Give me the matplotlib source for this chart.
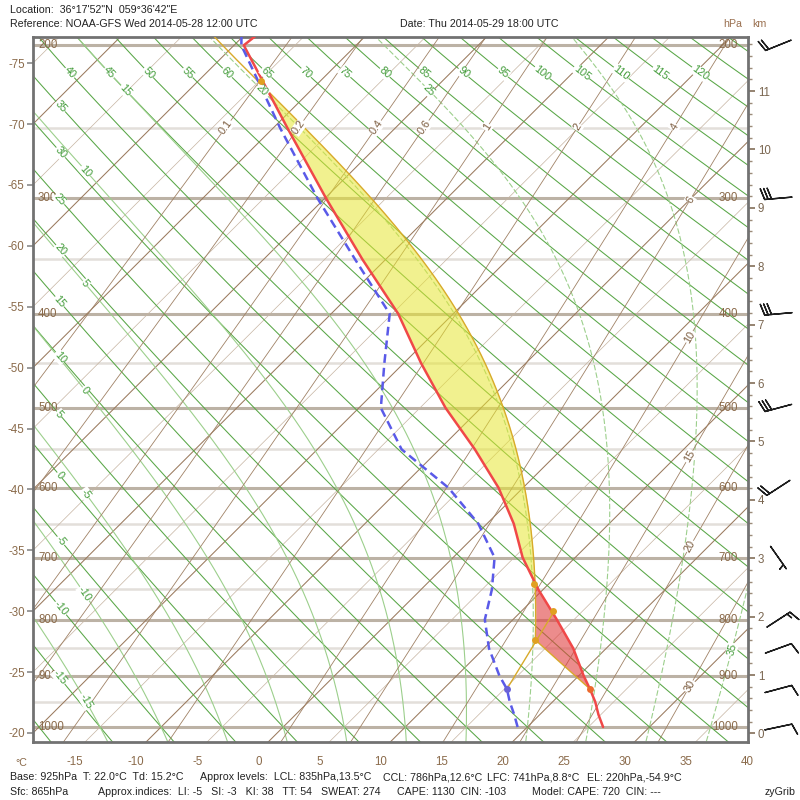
import numpy as np
import matplotlib
matplotlib.use("Agg")
import matplotlib.pyplot as plt
from matplotlib.ticker import MultipleLocator

plt.rcParams['font.family'] = ['Liberation Sans', 'DejaVu Sans']

# ---------------- data ----------------
levels_hpa = [1000, 975, 950, 925, 900, 850, 800, 750, 700, 650, 600, 550, 500,
              450, 400, 350, 300, 250, 200, 150]
temperature_c = [26.2, 24.8, 23.5, 22.0, 20.4, 17.3, 13.6, 9.6, 5.7, 2.2, -2.0, -7.1,
                 -12.9, -18.6, -24.5, -31.9, -39.9, -48.8, -59.2, -57.0]
dewpoint_c = [19.2, 17.9, 16.5, 15.2, 13.5, 10.4, 7.7, 5.8, 3.4, -0.7, -6.1, -13.1,
              -18.2, -21.6, -25.2, -32.5, -40.6, -49.4, -59.4, -68.0]

wind_levels_hpa = [200, 300, 400, 500, 600, 700, 800, 850, 925, 1000]
wind_dir_deg = [248, 265, 265, 255, 237, 145, 57, 70, 75, 78]
wind_speed_kt = [20, 30, 30, 30, 20, 5, 15, 10, 10, 10]

base_hpa, base_t, base_td = 925, 22.0, 15.2
lcl_hpa, lcl_t = 835, 13.5
ccl_hpa, ccl_t = 786, 12.6
lfc_hpa, lfc_t = 741, 8.8
el_hpa, el_t = 220, -54.9

isotherm_ticks = [-75, -70, -65, -60, -55, -50, -45, -40, -35, -30, -25, -20]
bottom_ticks = [-15, -10, -5, 0, 5, 10, 15, 20, 25, 30, 35, 40]
km_ticks = list(range(0, 12))
isobars_major = [200, 300, 400, 500, 600, 700, 800, 900, 1000]
isobars_minor = [250, 350, 450, 550, 650, 750, 850, 950]
dry_thetas = list(range(-20, 135, 5))
dry_top_labels = list(range(40, 125, 5))
dry_left_labels = list(range(-15, 40, 5))
moist_thetas = list(range(-15, 40, 5))
moist_left_labels = [-15, -10, -5, 0, 5, 10]
moist_top_labels = [15, 20, 25]
moist_right_labels = [35]
mixing_ratios = [0.1, 0.2, 0.4, 0.6, 1, 2, 4, 6, 10, 15, 20, 30]
mix_top_labels = [0.1, 0.2, 0.4, 0.6, 1, 2, 4]
mix_right_labels = [6, 10, 15, 20, 30]

header1 = "Location:  36°17'52\"N  059°36'42\"E"
header2 = "Reference: NOAA-GFS Wed 2014-05-28 12:00 UTC"
header3 = "Date: Thu 2014-05-29 18:00 UTC"
foot1 = [(10, "Base: 925hPa  T: 22.0°C  Td: 15.2°C"),
         (200, "Approx levels:  LCL: 835hPa,13.5°C"),
         (383, "CCL: 786hPa,12.6°C"),
         (487, "LFC: 741hPa,8.8°C"),
         (587, "EL: 220hPa,-54.9°C")]
foot2 = [(10, "Sfc: 865hPa"),
         (98, "Approx.indices:  LI: -5   SI: -3   KI: 38   TT: 54   SWEAT: 274"),
         (397, "CAPE: 1130  CIN: -103"),
         (532, "Model: CAPE: 720  CIN: ---"),
         (765, "zyGrib")]

# ---------------- physics helpers ----------------
SKEW = 4.795     # deg C per km of 45-degree skew
ZB, ZT = -0.146, 11.926
XL, XR = -19.26, 39.30
Rd, Cp, Lv, EPS = 287.04, 1005.7, 2.501e6, 0.622


def p2z(p):
    p = np.asarray(p, float)
    zt = 44.3308 * (1 - (p / 1013.25) ** 0.190263)
    zs = 11.0 + 6.3416 * np.log(226.32 / p)
    return np.where(p >= 226.32, zt, zs)


def sx(t, z):
    return np.asarray(t, float) + SKEW * (np.asarray(z, float) - ZB)


def sat_vp(tc):
    return 6.112 * np.exp(17.67 * tc / (tc + 243.5))


def moist_rate(tk, p):
    es = sat_vp(tk - 273.15)
    rs = EPS * es / (p - es)
    return (Rd * tk + Lv * rs) / (Cp + Lv * Lv * rs * EPS / (Rd * tk * tk)) / p


def moist_path(t0, p0, p1, n=300):
    ps = np.geomspace(p0, p1, n)
    tk = t0 + 273.15
    out = [tk]
    for i in range(1, n):
        a, b = ps[i - 1], ps[i]
        h = b - a
        k1 = moist_rate(tk, a)
        k2 = moist_rate(tk + 0.5 * h * k1, a + 0.5 * h)
        k3 = moist_rate(tk + 0.5 * h * k2, a + 0.5 * h)
        k4 = moist_rate(tk + h * k3, b)
        tk = tk + h * (k1 + 2 * k2 + 2 * k3 + k4) / 6
        out.append(tk)
    return ps, np.array(out) - 273.15


def dry_path(theta_c, ps):
    return (theta_c + 273.15) * (np.asarray(ps) / 1000.0) ** 0.2857 - 273.15


def mix_td(w, ps):
    e = w * np.asarray(ps) / (622.0 + w)
    le = np.log(e / 6.112)
    return 243.5 * le / (17.67 - le)


# ---------------- figure ----------------
fig = plt.figure(figsize=(8, 8), dpi=100)
W = H = 800.0
ax = fig.add_axes([33 / W, 58 / H, 715 / W, 705 / H])
ax.set_xlim(XL, XR)
ax.set_ylim(ZB, ZT)

C_ISO_MAJ = '#bcb2a5'
C_ISO_MIN = '#e3dfda'
C_TMAJ = '#9a7a5e'
C_TMIN = '#c6b4a2'
C_DRY = '#58a646'
C_MOIST = '#9ccf8c'
C_MIX = '#a08266'
C_LAB = '#8a6a4a'
C_GLAB = '#3f9a36'

# isobars
for p in isobars_minor:
    ax.axhline(float(p2z(p)), color=C_ISO_MIN, lw=1.8, zorder=1)
for p in isobars_major:
    ax.axhline(float(p2z(p)), color=C_ISO_MAJ, lw=2.2, zorder=1)
    z = float(p2z(p))
    ax.text(0.007, z, str(p), transform=ax.get_yaxis_transform(), ha='left',
            va='center', fontsize=8.3, color=C_LAB, zorder=6)
    ax.text(0.986, z, str(p), transform=ax.get_yaxis_transform(), ha='right',
            va='center', fontsize=8.3, color=C_LAB, zorder=6)

zz = np.array([ZB, ZT])
# isotherms
for t in range(-110, 45, 5):
    major = (t % 10 == 0)
    ax.plot(sx(t, zz), zz, color=C_TMAJ if major else C_TMIN,
            lw=0.75 if major else 0.5, zorder=2)


def angle_at(xs, ys, i):
    i0 = max(i - 3, 0)
    i1 = min(i + 3, len(xs) - 1)
    a = ax.transData.transform((xs[i0], ys[i0]))
    b = ax.transData.transform((xs[i1], ys[i1]))
    ang = np.degrees(np.arctan2(b[1] - a[1], b[0] - a[0]))
    if ang > 90:
        ang -= 180
    if ang < -90:
        ang += 180
    return ang


def put_label(xs, ys, i, text, color, size=7.8):
    ax.text(xs[i], ys[i], text, color=color, fontsize=size, ha='center',
            va='center', rotation=angle_at(xs, ys, i), rotation_mode='anchor',
            zorder=6, clip_on=True,
            bbox=dict(boxstyle='square,pad=0.05', fc='white', ec='none'))


pgrid = np.geomspace(1045, 170, 300)
zgrid = p2z(pgrid)
Z_TOP_LAB = (733.5 - 72) / 58.4
X_LEFT_LAB = (60 - 33) / 12.21 + XL

# dry adiabats
for th in dry_thetas:
    xs = sx(dry_path(th, pgrid), zgrid)
    ax.plot(xs, zgrid, color=C_DRY, lw=0.75, zorder=2)
    if th in dry_top_labels:
        i = int(np.argmin(np.abs(zgrid - Z_TOP_LAB)))
        put_label(xs, zgrid, i, str(th), C_GLAB)
    if th in dry_left_labels:
        i = int(np.argmin(np.abs(xs - X_LEFT_LAB)))
        put_label(xs, zgrid, i, str(th), C_GLAB)

# moist adiabats
Z_MTOP = (733.5 - 91) / 58.4
X_MLEFT = (85 - 33) / 12.21 + XL
X_MRIGHT = (732 - 33) / 12.21 + XL
for tw in moist_thetas:
    pu, tu = moist_path(tw, 1000.0, 170.0)
    pd, td = moist_path(tw, 1000.0, 1045.0, 40)
    ps = np.concatenate([pd[::-1], pu[1:]])
    ts = np.concatenate([td[::-1], tu[1:]])
    zs = p2z(ps)
    xs = sx(ts, zs)
    if tw >= 20:
        ax.plot(xs, zs, color=C_MOIST, lw=0.8, dashes=(5, 2), zorder=2)
    else:
        ax.plot(xs, zs, color=C_MOIST, lw=0.8, zorder=2)
    if tw in moist_left_labels:
        i = int(np.argmin(np.abs(xs - X_MLEFT)))
        put_label(xs, zs, i, str(tw), C_GLAB)
    if tw in moist_top_labels:
        i = int(np.argmin(np.abs(zs - Z_MTOP)))
        put_label(xs, zs, i, str(tw), C_GLAB)
    if tw in moist_right_labels:
        i = int(np.argmin(np.abs(xs - X_MRIGHT)))
        put_label(xs, zs, i, str(tw), C_GLAB)

# mixing ratio lines
X_MIXR = (690 - 33) / 12.21 + XL
for w in mixing_ratios:
    xs = sx(mix_td(w, pgrid), zgrid)
    ax.plot(xs, zgrid, color=C_MIX, lw=0.6, zorder=2)
    lab = ('%g' % w)
    if w in mix_top_labels:
        i = int(np.argmin(np.abs(pgrid - 250)))
        put_label(xs, zgrid, i, lab, '#7a5a3c')
    if w in mix_right_labels:
        i = int(np.argmin(np.abs(xs - X_MIXR)))
        put_label(xs, zgrid, i, lab, '#7a5a3c')

# ---------------- sounding ----------------
zl = p2z(levels_hpa)
xt = sx(temperature_c, zl)
xd = sx(dewpoint_c, zl)

# parcel paths
p_dry = np.geomspace(base_hpa, lcl_hpa, 40)
theta_base = (base_t + 273.15) * (1000.0 / base_hpa) ** 0.2857 - 273.15
t_dry = dry_path(theta_base, p_dry)
p_m, t_m = moist_path(lcl_t, lcl_hpa, 175.0)
p_mix = np.geomspace(base_hpa, ccl_hpa, 30)
w_base = 622.0 * sat_vp(base_td) / (base_hpa - sat_vp(base_td))
t_mix = mix_td(w_base, p_mix)

z_par = np.concatenate([p2z(p_dry), p2z(p_m[1:])])
x_par = np.concatenate([sx(t_dry, p2z(p_dry)), sx(t_m[1:], p2z(p_m[1:]))])

# CAPE (yellow) and CIN (red) areas
zf = np.linspace(float(p2z(lfc_hpa)), float(p2z(el_hpa)), 400)
env = np.interp(zf, zl, xt)
par = np.interp(zf, z_par, x_par)
ax.fill_betweenx(zf, env, par, where=par >= env, color=(0.9, 0.9, 0.2),
                 alpha=0.55, lw=0, zorder=3)
zc = np.linspace(float(p2z(base_hpa)), float(p2z(lfc_hpa)), 300)
env_c = np.interp(zc, zl, xt)
par_c = np.interp(zc, z_par, x_par)
ax.fill_betweenx(zc, env_c, par_c, where=par_c <= env_c, color=(0.88, 0.25, 0.25),
                 alpha=0.6, lw=0, zorder=3)

C_PARCEL = '#d8aa2a'
ax.plot(x_par, z_par, color=C_PARCEL, lw=1.0, zorder=4)
ax.plot(sx(t_mix, p2z(p_mix)), p2z(p_mix), color=C_PARCEL, lw=1.0, zorder=4)

ax.plot(xt, zl, color='#f04848', lw=1.8, zorder=5, solid_capstyle='round')
ax.plot(xd, zl, color='#5a5ae8', lw=1.8, dashes=(3.5, 2), zorder=5)

# marker dots
dot_p = [lcl_hpa, ccl_hpa, lfc_hpa, el_hpa]
dot_t = [lcl_t, ccl_t, lfc_t, el_t]
ax.plot(sx(dot_t, p2z(dot_p)), p2z(dot_p), 'o', ms=5, color='#e0a020',
        mec='none', zorder=6)
ax.plot(sx([base_t], p2z([base_hpa])), p2z([base_hpa]), 'o', ms=5,
        color='#ec6a2e', mec='none', zorder=6)
ax.plot(sx([base_td], p2z([base_hpa])), p2z([base_hpa]), 'o', ms=5,
        color='#6a62d8', mec='none', zorder=6)

# ---------------- axes decoration ----------------
for s in ax.spines.values():
    s.set_color('#727272')
    s.set_linewidth(2.0)
ax.spines['right'].set_visible(False)

# left: isotherm values where they meet the left edge
ax.set_yticks([(XL - t) / SKEW + ZB for t in isotherm_ticks])
ax.set_yticklabels([str(t) for t in isotherm_ticks])
ax.tick_params(axis='y', length=4, width=1.2, color='#8a8a8a', labelcolor=C_LAB,
               labelsize=8.3, pad=2)
ax.set_xticks([t - 0.8 for t in bottom_ticks])
ax.set_xticklabels([str(t) for t in bottom_ticks])
ax.tick_params(axis='x', length=0, labelcolor=C_LAB, labelsize=8.3, pad=10)

axr = ax.twinx()
axr.set_ylim(ZB, ZT)
axr.set_yticks(km_ticks)
axr.set_yticklabels([str(k) for k in km_ticks])
axr.yaxis.set_minor_locator(MultipleLocator(0.2))
axr.tick_params(axis='y', which='major', length=5, width=1.3, color='#8c7a66',
                labelcolor='#7a6650', labelsize=8.3, pad=2)
axr.tick_params(axis='y', which='minor', length=3, width=1.0, color='#9c8c7a')
for k, s in axr.spines.items():
    s.set_visible(k == 'right')
axr.spines['right'].set_color('#727272')
axr.spines['right'].set_linewidth(2.0)

# wind barbs
axb = fig.add_axes([752 / W, 58 / H, 48 / W, 705 / H])
axb.set_xlim(0, 1)
axb.set_ylim(ZB, ZT)
axb.axis('off')
wd = np.radians(wind_dir_deg)
spd = np.array(wind_speed_kt, float)
u = -spd * np.sin(wd)
v = -spd * np.cos(wd)
axb.barbs(np.full(len(spd), 0.55), p2z(wind_levels_hpa), u, v, pivot='middle',
          length=6.3, linewidth=1.0, color='#1e1e1e')

# ---------------- texts ----------------
def ftext(x, y, s, **kw):
    fig.text(x / W, 1 - y / H, s, ha=kw.pop('ha', 'left'), va='center',
             fontsize=kw.pop('fontsize', 7.65), **kw)

ftext(10, 10, header1, color='#222222')
ftext(10, 24, header2, color='#222222')
ftext(400, 24, header3, color='#222222')
ftext(723, 24, 'hPa', color='#9a7050')
ftext(752, 24, 'km', color='#9a7050')
ftext(15, 763, '°C', color=C_LAB)
for x, s in foot1:
    ftext(x, 777, s, color='#222222')
for x, s in foot2:
    ftext(x, 792, s, color='#222222')

fig.savefig('out.png', dpi=100)
